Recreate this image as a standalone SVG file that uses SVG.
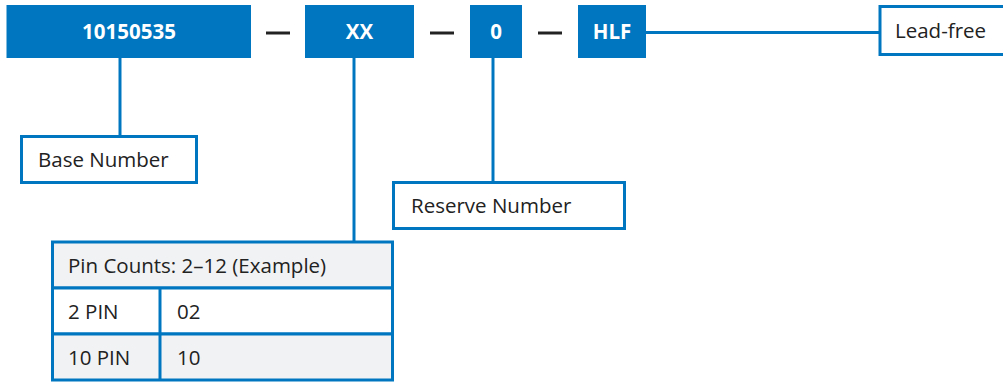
<svg xmlns="http://www.w3.org/2000/svg" width="1003" height="383" viewBox="0 0 1003 383">
<style>
.seg{fill:#0076C0}
.segt{fill:#fff;font-family:"Open Sans","Noto Sans",sans-serif;font-weight:bold;font-size:20.5px;text-anchor:middle}
.dash{stroke:#222;stroke-width:3}
.lbl{fill:#fff;stroke:#0076C0;stroke-width:3}
.t{fill:#222;font-family:"Open Sans","Noto Sans",sans-serif;font-size:20.5px}
.conn{stroke:#0076C0;stroke-width:3;fill:none}
.gray{fill:#F1F2F4;stroke:#0076C0;stroke-width:3}
.white{fill:#fff;stroke:#0076C0;stroke-width:3}
</style>
<rect width="1003" height="383" fill="#fff"/>
<g id="connectors">
<line class="conn" x1="120" y1="58" x2="120" y2="136"/>
<line class="conn" x1="354" y1="58" x2="354" y2="242"/>
<line class="conn" x1="493" y1="58" x2="493" y2="182"/>
<line class="conn" x1="646" y1="32.5" x2="880" y2="32.5"/>
</g>
<g id="seg-base">
<rect class="seg" x="6.5" y="5" width="244.5" height="53"/>
<text class="segt" x="129" y="39">10150535</text>
</g>
<line class="dash" x1="266" y1="33" x2="290" y2="33"/>
<g id="seg-xx">
<rect class="seg" x="305" y="5" width="109" height="53"/>
<text class="segt" x="359.5" y="39">XX</text>
</g>
<line class="dash" x1="430" y1="33" x2="454" y2="33"/>
<g id="seg-0">
<rect class="seg" x="470" y="5" width="52" height="53"/>
<text class="segt" x="496" y="39">0</text>
</g>
<line class="dash" x1="538" y1="33" x2="562" y2="33"/>
<g id="seg-hlf">
<rect class="seg" x="578" y="5" width="68" height="53"/>
<text class="segt" x="612" y="39">HLF</text>
</g>
<g id="lead-free">
<rect class="lbl" x="880" y="6.5" width="130" height="48"/>
<text class="t" x="895" y="38">Lead-free</text>
</g>
<g id="base-number">
<rect class="lbl" x="21.5" y="136.5" width="175" height="46"/>
<text class="t" x="38" y="167">Base Number</text>
</g>
<g id="reserve-number">
<rect class="lbl" x="393.5" y="182.5" width="231" height="46"/>
<text class="t" x="411" y="213">Reserve Number</text>
</g>
<g id="pin-table">
<rect class="gray" x="52.5" y="242" width="340" height="46"/>
<rect class="white" x="52.5" y="288" width="340" height="46"/>
<rect class="gray" x="52.5" y="334" width="340" height="46"/>
<line class="conn" x1="160" y1="288" x2="160" y2="380"/>
<text class="t" x="68" y="273">Pin Counts: 2–12 (Example)</text>
<text class="t" x="68" y="319">2 PIN</text>
<text class="t" x="177" y="319">02</text>
<text class="t" x="68" y="365">10 PIN</text>
<text class="t" x="177" y="365">10</text>
</g>
</svg>
